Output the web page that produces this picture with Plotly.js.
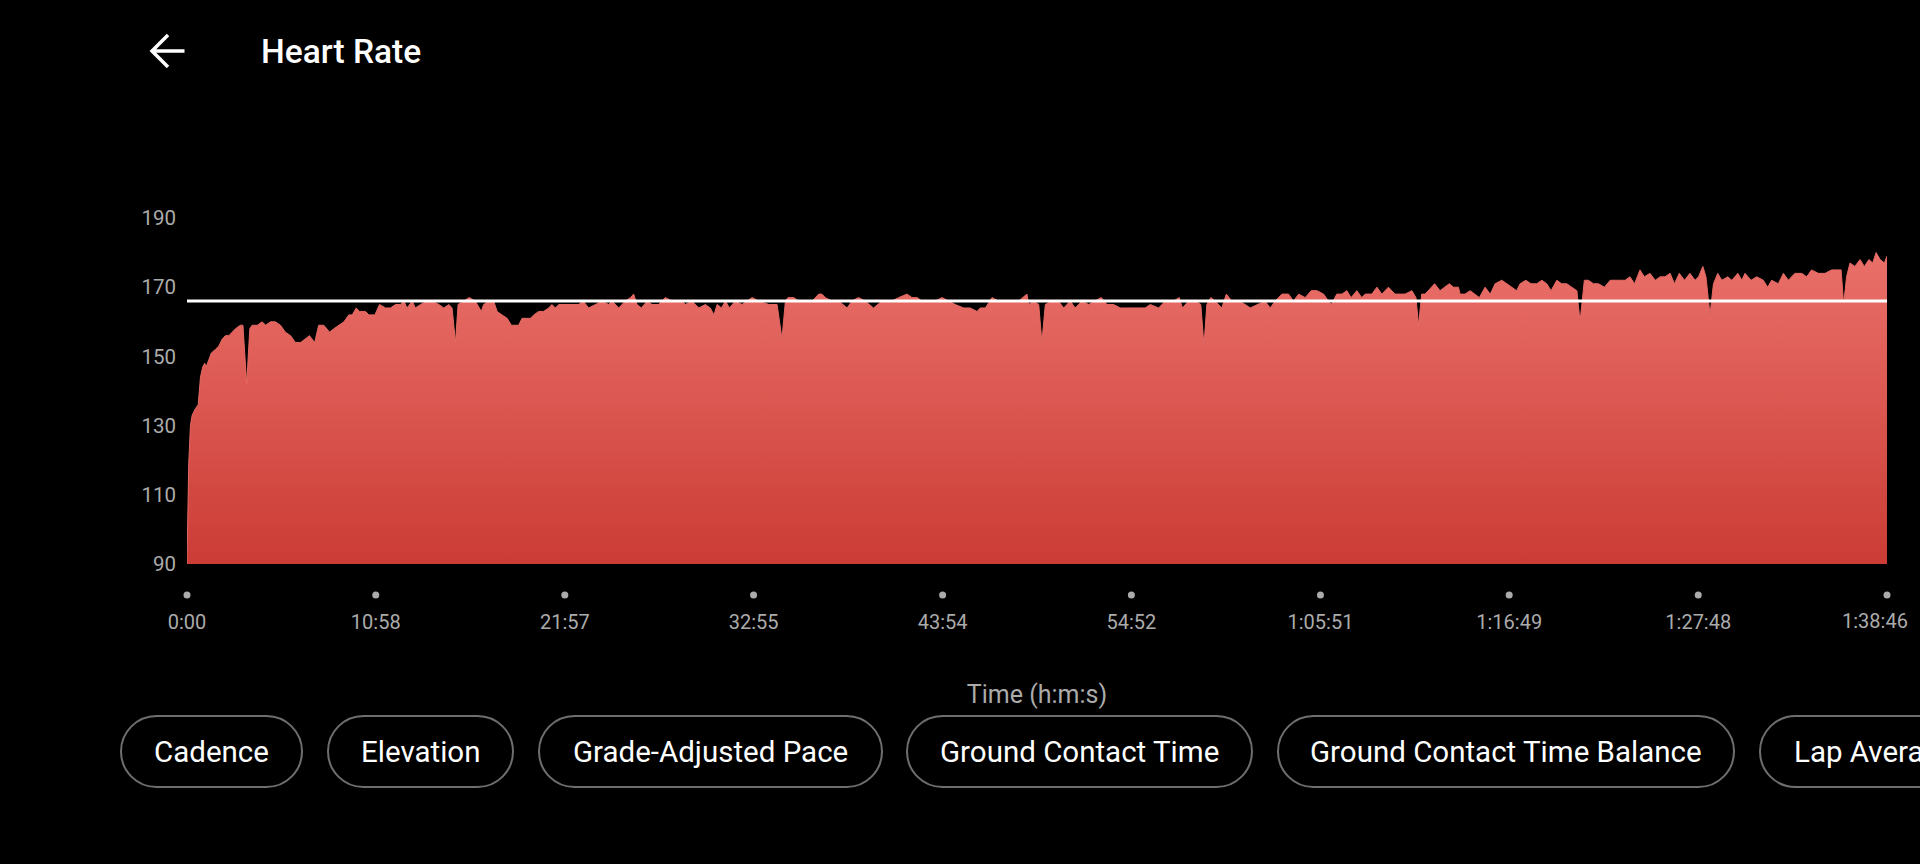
<!DOCTYPE html>
<html><head><meta charset="utf-8">
<script src="https://cdn.plot.ly/plotly-3.0.1.min.js"></script>
<style>html,body{margin:0;padding:0;background:#000;overflow:hidden}#chart{width:1920px;height:864px}</style>
</head><body><div id="chart"></div>
<script>
// ---------------- data ----------------
const elapsedSec = [
0,6,12,18,30,39,47,55,62,67,76,85,99,111,123,134,146,157,169,186,195,208,219,227,245,262,274,291,308,326,
343,361,378,396,413,427,445,459,477,497,512,529,547,564,576,590,601,622,634,655,671,692,709,727,744,756,767,785,796,814,
837,854,878,895,913,924,936,945,965,984,1005,1026,1034,1052,1069,1081,1098,1116,1131,1156,1168,1185,1197,1209,1226,1243,1261,1272,1284,1296,
1319,1342,1365,1381,1400,1424,1447,1470,
1482,1505,1528,1546,1557,1569,1584,1604,1621,1644,1667,1691,1726,1737,1760,1784,1807,1824,1837,1848,1863,1877,1891,1911,1935,1970,1993,2028,2057,2074,
2086,2095,2115,2132,2155,2179,2202,2213,2225,2248,2272,2301,2318,2341,2364,2393,2423,2457,2481,2510,2527,2545,2562,2585,2608,2632,2655,2678,2707,2730,
2754,2765,2783,2806,2829,2852,2876,2899,2928,
2934,2951,2969,2980,2992,3015,3038,3056,3079,3096,3120,3143,3166,3187,3207,3230,3253,3282,3317,3340,3358,3387,3410,3439,3459,3470,3491,3515,3534,3545,
3555,3569,3584,3607,3623,3642,3666,3689,3706,3735,3758,3776,3793,3817,3840,3857,3875,3898,3919,3939,3962,3979,3989,4008,4026,4043,4058,4078,4095,4107,
4130,4148,4165,4188,4211,4229,4246,4270,4284,4293,4304,4316,4328,4349,4368,4386,
4400,4415,4432,4438,4455,4473,4490,4505,4525,4543,4560,4583,4601,4618,4635,4647,4667,4685,4705,4723,4740,4755,4775,4792,4810,4827,4845,4856,4871,4885,
4903,4920,4941,4961,4990,5013,5030,5046,5065,5080,5100,5118,5135,5152,5170,5185,5202,5220,5239,5257,5269,5284,5295,5309,5321,5336,5350,5371,5385,5406,
5420,5431,5452,5472,5495,5510,5524,5547,5565,5582,5605,5629,5646,5663,5687,5710,5733,5751,5766,5775,5785,5797,5814,5832,5847,5863,5876,5888,5902,5917,5926
];
const heartRate = [
90,119,130,133,135,136,144,147,148,147,149,151,152,153,155,156,156,157,158,159,159,142,158,159,159,160,159,160,160,159,
157,156,154,154,155,156,154,159,159,157,158,159,160,162,162,164,163,163,162,162,165,164,164,165,165,166,164,166,164,165,
166,166,165,164,165,164,154,165,166,167,166,163,165,166,166,163,162,161,159,159,161,161,161,162,163,163,164,165,164,165,
165,165,165,166,164,165,166,165,
166,164,166,167,168,165,164,166,165,165,167,166,166,165,166,164,165,164,162,165,164,166,164,166,165,167,166,165,165,155,
166,167,167,166,166,166,168,168,167,166,166,164,166,167,166,164,166,166,167,168,167,167,166,166,166,167,166,165,164,164,
163,164,164,167,166,166,166,166,168,
165,166,165,154,165,166,166,164,166,164,166,165,166,167,165,165,164,164,164,164,165,164,166,166,167,164,166,166,165,153,
165,167,166,164,168,166,166,165,164,165,166,164,166,168,168,166,168,167,169,169,168,166,165,168,168,169,167,169,167,168,
168,170,168,170,168,168,168,169,167,159,168,168,169,171,169,170,
171,170,170,168,168,169,168,167,170,168,171,172,171,170,169,171,172,171,171,172,171,169,172,171,171,170,169,160,172,172,
171,171,170,172,172,172,173,171,175,173,174,172,173,173,174,171,174,172,174,172,173,176,173,162,171,174,172,173,172,174,
172,174,172,173,172,170,172,171,174,172,174,174,173,175,174,174,175,175,175,165,173,177,176,178,176,178,177,180,178,177,179
];
const avgHeartRate = 166;
const yTickValues = [90, 110, 130, 150, 170, 190];
const xTickSeconds = [0, 658, 1317, 1975, 2634, 3292, 3951, 4609, 5268, 5926];
const xTickLabels = ['0:00','10:58','21:57','32:55','43:54','54:52','1:05:51','1:16:49','1:27:48','1:38:46'];
const chipLabels = ['Cadence','Elevation','Grade-Adjusted Pace','Ground Contact Time','Ground Contact Time Balance','Lap Averages'];

// ---------------- layout geometry (pixels) ----------------
const W = 1920, H = 864;
const PL = 187, PR = 1887, PT = 218, PB = 600, MAIN_BOTTOM = 564;
const pw = PR - PL, ph = PB - PT;
const xp = px => (px - PL) / pw;
const yp = py => (PB - py) / ph;
const chipEdges = [[121,302],[328,513],[539,882],[907,1252],[1278,1734],[1760,2200]];
const chipTop = 716, chipBottom = 787;

function pillPath(x0, x1, y0, y1) {
  const r = (y1 - y0) / 2, k = 0.5523 * r, ym = (y0 + y1) / 2;
  const P = (x, y) => xp(x).toFixed(5) + ',' + yp(y).toFixed(5);
  return 'M' + P(x0 + r, y0) + ' L' + P(x1 - r, y0) +
    ' C' + P(x1 - r + k, y0) + ' ' + P(x1, ym - k) + ' ' + P(x1, ym) +
    ' C' + P(x1, ym + k) + ' ' + P(x1 - r + k, y1) + ' ' + P(x1 - r, y1) +
    ' L' + P(x0 + r, y1) +
    ' C' + P(x0 + r - k, y1) + ' ' + P(x0, ym + k) + ' ' + P(x0, ym) +
    ' C' + P(x0, ym - k) + ' ' + P(x0 + r - k, y0) + ' ' + P(x0 + r, y0) + ' Z';
}

const FONT = 'Roboto, "Noto Sans", sans-serif';
const GREY = '#ababab';
const lastIdx = xTickLabels.length - 1;
// the last label is kept inside the screen edge (as in the app), so it is drawn separately
const shownTickText = xTickLabels.map((t, i) => i === lastIdx ? '' : t);

const traces = [
  {
    x: elapsedSec, y: heartRate, type: 'scatter', mode: 'lines',
    line: {width: 1, color: '#e46a64'},
    fill: 'tozeroy',
    fillgradient: {type: 'vertical', start: 90, stop: 180,
      colorscale: [[0, '#cb3c35'], [1, '#ea706a']]},
    hoverinfo: 'skip', xaxis: 'x', yaxis: 'y'
  },
  {
    x: xTickSeconds, y: xTickSeconds.map(() => 0), type: 'scatter', mode: 'markers',
    marker: {size: 7, color: GREY}, cliponaxis: false,
    hoverinfo: 'skip', xaxis: 'x', yaxis: 'y2'
  }
];

const shapes = [
  {type: 'line', xref: 'paper', yref: 'y', x0: 0, x1: 1, y0: avgHeartRate, y1: avgHeartRate,
   line: {color: '#ffffff', width: 3}, layer: 'above'},
  // back arrow
  {type: 'path', xref: 'paper', yref: 'paper',
   path: 'M' + xp(184.5) + ',' + yp(51) + ' L' + xp(152) + ',' + yp(51) +
         ' M' + xp(168) + ',' + yp(35) + ' L' + xp(152) + ',' + yp(51) + ' L' + xp(168) + ',' + yp(67),
   line: {color: '#ffffff', width: 3.5}}
];
const annotations = [
  {xref: 'paper', yref: 'paper', showarrow: false, x: xp(1910), xanchor: 'right',
   y: yp(621), yanchor: 'middle', text: xTickLabels[lastIdx],
   font: {family: FONT, size: 20, color: GREY}}
];
chipEdges.forEach((e, i) => {
  shapes.push({type: 'path', xref: 'paper', yref: 'paper', path: pillPath(e[0], e[1], chipTop, chipBottom),
    line: {color: '#6e6e6e', width: 2}, fillcolor: 'rgba(0,0,0,0)'});
  const last = i === chipEdges.length - 1;
  annotations.push({xref: 'paper', yref: 'paper', showarrow: false,
    x: last ? xp(e[0] + 32) : xp((e[0] + e[1]) / 2), xanchor: last ? 'left' : 'center',
    y: yp((chipTop + chipBottom) / 2), yanchor: 'middle',
    text: chipLabels[i], font: {family: FONT, size: 29.5, color: '#ffffff'}});
});

const layout = {
  width: W, height: H,
  paper_bgcolor: '#000000', plot_bgcolor: '#000000',
  margin: {l: PL, r: W - PR, t: PT, b: H - PB, pad: 0},
  showlegend: false,
  title: {text: 'Heart Rate', xref: 'container', yref: 'container', x: 261 / W, xanchor: 'left',
          y: 1 - 51 / H, yanchor: 'middle',
          font: {family: FONT, size: 33.5, color: '#ffffff', weight: 500}},
  xaxis: {
    range: [0, xTickSeconds[lastIdx]], anchor: 'y2',
    tickmode: 'array', tickvals: xTickSeconds, ticktext: shownTickText,
    showgrid: false, zeroline: false, showline: false, ticks: '',
    ticklabelstandoff: 8, ticklabeloverflow: 'allow',
    tickfont: {family: FONT, size: 20, color: GREY},
    title: {text: 'Time (h:m:s)', standoff: 52, font: {family: FONT, size: 25, color: GREY}},
    automargin: false, fixedrange: true
  },
  yaxis: {
    domain: [yp(MAIN_BOTTOM), 1], range: [90, 190],
    tickmode: 'array', tickvals: yTickValues,
    showgrid: false, zeroline: false, showline: false, ticks: '',
    ticklabelstandoff: 10,
    tickfont: {family: FONT, size: 20.5, color: GREY},
    automargin: false, fixedrange: true
  },
  yaxis2: {
    domain: [0, yp(590)], range: [-1, 1], visible: false, fixedrange: true
  },
  shapes: shapes,
  annotations: annotations
};

Plotly.newPlot('chart', traces, layout, {displayModeBar: false, staticPlot: true});
</script>
</body></html>
